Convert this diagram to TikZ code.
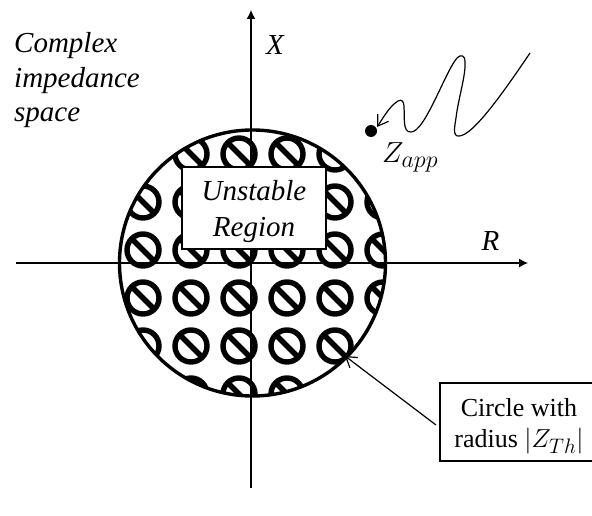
\documentclass[tikz,border=0pt]{standalone}
\usepackage{amsmath}
\usepackage{fix-cm}
\usepackage{fontspec}
\setmainfont{Liberation Serif}
\DeclareMathSizes{29}{29}{24}{18}
\DeclareMathSizes{26}{26}{21}{16}
\usetikzlibrary{positioning,arrows.meta,calc}

\begin{document}
\begin{tikzpicture}[
  x=1pt, y=-1pt,
  axisline/.style={-{Latex[length=9pt,width=9pt]}, line width=1.2pt},
  thinarr/.style={-{Straight Barb[length=10pt,width=13pt]}, line width=1.2pt},
  boundary/.style={line width=3.4pt},
  nosign/.style={line width=5.4pt},
  label/.style={align=center, font=\fontsize{29}{34.5}\selectfont\itshape, inner sep=0pt},
  whitebox/.style={draw, line width=1.3pt, fill=white, align=center, inner sep=0pt},
  dot/.style={circle, fill=black, minimum size=12pt, inner sep=0pt}
]
  \useasboundingbox (0,0) rectangle (592,516);

  % forbidden pattern, cut by the circle
  \begin{scope}
    \clip (252.5,263) circle (133);
    \foreach \px in {143,191,239,287,335,383} {
      \foreach \py in {154,202,250,298,346,394} {
        \draw[nosign] (\px,\py) circle (16);
        \draw[nosign] (\px-11,\py-11) -- (\px+11,\py+11);
      }
    }
  \end{scope}

  \coordinate (west) at (16,263);
  \coordinate (east) at (528,263);
  \coordinate (south) at (251,488);
  \coordinate (north) at (251,10);
  \draw[axisline] (west) -- (east);
  \draw[axisline] (south) -- (north);
  \draw[boundary] (252.5,263) circle (133);

  \node[whitebox, minimum width=144pt, minimum height=82pt, font=\fontsize{29}{36}\selectfont\itshape] (region) at (254,208) {\rule{0pt}{28pt}Unstable\\Region};

  \node[label, anchor=base] (xlabel) at (275,55) {X};
  \node[label, anchor=base] (rlabel) at (490.5,250) {R};
  \node[label, align=left, anchor=base west] (space) at (14,122) {Complex\\impedance\\space};

  % trajectory of the apparent impedance
  \node[dot] (zdot) at (371,131) {};
  \node[font=\fontsize{29}{32}\selectfont, anchor=base west, inner sep=0pt] (zapp) at (382,163) {$Z_{app}$};
  \coordinate (start) at (530,53);
  \draw[thinarr] (start) .. controls (505,90) and (473,136) .. (459,136)
    .. controls (452,137) and (455,125) .. (456,118)
    .. controls (458,100) and (466,75) .. (465,62)
    .. controls (465,55) and (461,54) .. (457,58)
    .. controls (445,72) and (425,132) .. (411,132)
    .. controls (402,133) and (405,115) .. (404,108)
    .. controls (404,101) and (402,99) .. (398,101)
    .. controls (390,106) and (385,115) .. (377,127);

  % callout
  \node[whitebox, minimum width=158pt, minimum height=78pt, font=\fontsize{26}{31.5}\selectfont] (callout) at (519,422) {\rule{0pt}{26pt}Circle with\\radius $|Z_{Th}|$};
  \coordinate (rim) at (345,356);
  \draw[thinarr] (436,425) -- (rim);
\end{tikzpicture}
\end{document}
